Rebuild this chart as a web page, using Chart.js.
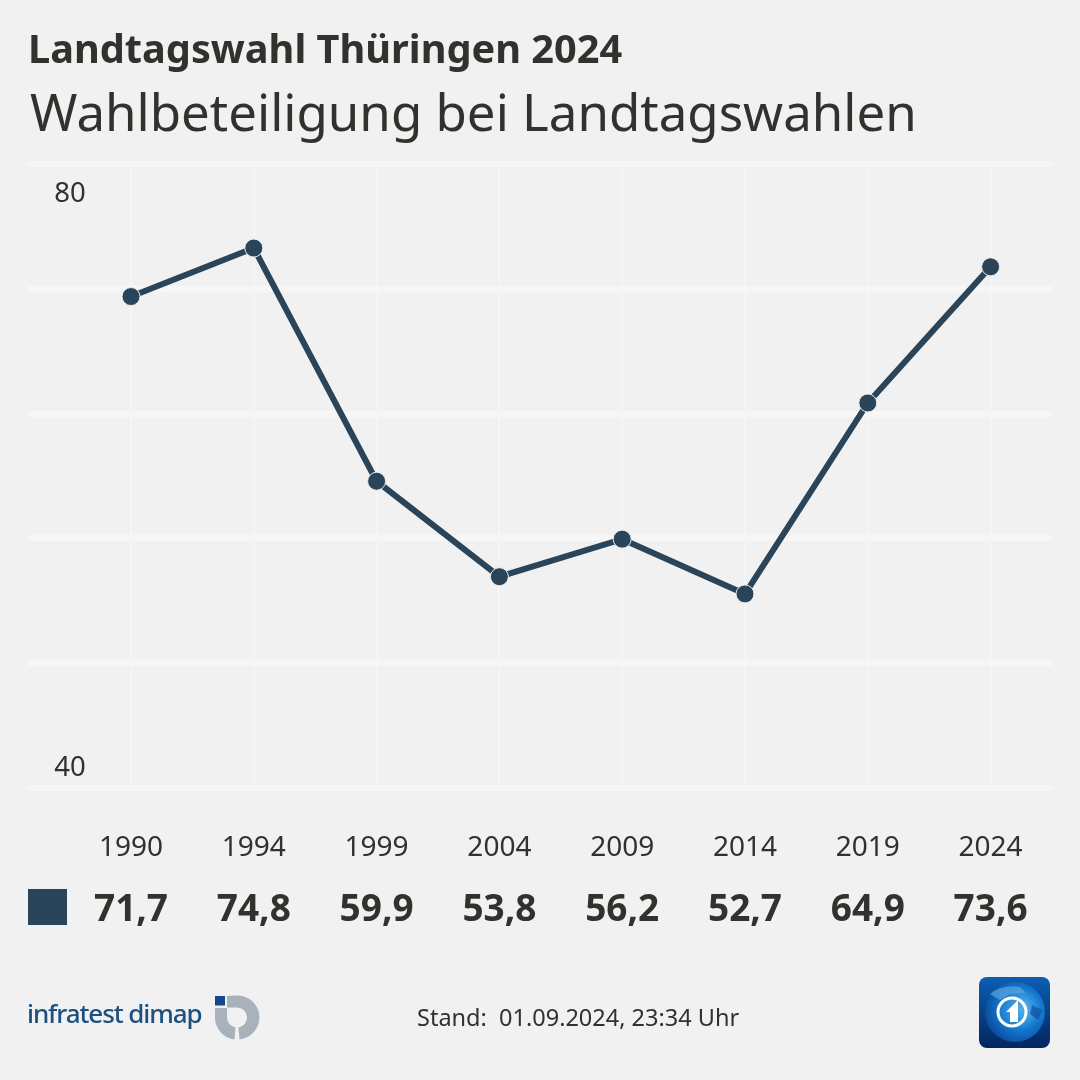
<!DOCTYPE html>
<html lang="de">
<head>
<meta charset="utf-8">
<title>Wahlbeteiligung bei Landtagswahlen</title>
<script src="https://cdn.jsdelivr.net/npm/chart.js@4"></script>
<style>
  html, body { margin: 0; padding: 0; background: #f1f1f1; }
  #wrap { position: relative; width: 1080px; height: 1080px; overflow: hidden; font-family: "Noto Sans", sans-serif; color: #32312d; }
  #wrap canvas { position: absolute; left: 0; top: 0; }
  .txt { position: absolute; white-space: nowrap; }
  #kicker { left: 28px; top: 21px; font-size: 39.7px; font-weight: 700; line-height: 54px; }
  #title { left: 30px; top: 78px; font-size: 51px; line-height: 66px; }
  #stand { left: 417px; top: 1002px; font-size: 23.5px; line-height: 30px; }
  #brand { left: 27px; top: 995px; font-size: 26px; line-height: 36px; color: #1d4f80; font-weight: 500; letter-spacing: -1.1px; }
  #swatch { position: absolute; left: 28px; top: 889px; width: 39px; height: 36px; background: #2a4459; }
  svg { position: absolute; }
</style>
</head>
<body>
<div id="wrap">
  <canvas id="wahl" width="1080" height="1080"></canvas>
  <div class="txt" id="kicker">Landtagswahl Thüringen 2024</div>
  <div class="txt" id="title">Wahlbeteiligung bei Landtagswahlen</div>
  <div id="swatch"></div>
  <div class="txt" id="brand">infratest dimap</div>
  <svg style="left:210px;top:990px" width="54" height="54" viewBox="210 990 54 54">
    <path d="M227 996 L237 995.500 A22 22 0 0 1 239.500 1039.400 L238.500 1027.400 A10 10 0 0 0 237 1007.500 L227 1007.500 Z" fill="#a9b2ba"/>
    <path d="M215 1008 L227 1008 L227 1017.500 A10 10 0 0 0 235.500 1027.400 L234.500 1039.400 A22 22 0 0 1 215 1017.500 Z" fill="#a9b2ba"/>
    <rect x="215" y="996" width="10" height="9.500" fill="#12498a"/>
  </svg>
  <div class="txt" id="stand">Stand:&nbsp; 01.09.2024, 23:34 Uhr</div>
  <svg style="left:975px;top:973px" width="80" height="80" viewBox="975 973 80 80">
    <defs>
      <linearGradient id="tile" x1="0" y1="0" x2="0" y2="1">
        <stop offset="0" stop-color="#0b5fb4"/>
        <stop offset="1" stop-color="#04255f"/>
      </linearGradient>
      <radialGradient id="globe" cx="0.6" cy="0.45" r="0.62">
        <stop offset="0" stop-color="#6cc0f2"/>
        <stop offset="0.55" stop-color="#1479cf"/>
        <stop offset="1" stop-color="#0a4a9a"/>
      </radialGradient>
    </defs>
    <rect x="979" y="977" width="71" height="71" rx="8" fill="url(#tile)"/>
    <circle cx="1015" cy="1012" r="30" fill="url(#globe)"/>
    <path d="M990 994 Q1002 984 1020 987 L1026 993 L1010 994 L1000 1000 Z" fill="#5aa6e0" opacity="0.7"/>
    <path d="M1032 1005 L1042 1010 L1038 1020 L1030 1014 Z" fill="#0d4f9e" opacity="0.7"/>
    <circle cx="1012" cy="1012" r="14" fill="#2a8ad8" fill-opacity="0.35" stroke="#fff" stroke-width="3"/>
    <path d="M1006 1012 L1018 1000 L1018 1022 L1010 1022 L1010 1012 Z" fill="#fff"/>
  </svg>
</div>
<script>
const years = ['1990', '1994', '1999', '2004', '2009', '2014', '2019', '2024'];
const turnout = [71.7, 74.8, 59.9, 53.8, 56.2, 52.7, 64.9, 73.6];
const turnoutLabels = ['71,7', '74,8', '59,9', '53,8', '56,2', '52,7', '64,9', '73,6'];
const gridValues = [40.3, 48.27, 56.25, 64.22, 72.2, 80.17];
const yLabels = ['40', '80'];
const yLabelValues = [41.56, 78.24];

const textColor = '#32312d';
const gridColor = '#f6f6f6';
const lineColor = '#2a4459';

// y-Achse steht im Plot, nicht daneben
const yLabelPlugin = {
  id: 'yLabelPlugin',
  afterDatasetsDraw(chart) {
    const ctx = chart.ctx;
    const y = chart.scales.y;
    ctx.save();
    ctx.font = '400 27.5px "Noto Sans"';
    ctx.fillStyle = textColor;
    ctx.textAlign = 'center';
    ctx.textBaseline = 'middle';
    yLabels.forEach((t, i) => ctx.fillText(t, 70, y.getPixelForValue(yLabelValues[i])));
    ctx.restore();
  }
};

new Chart(document.getElementById('wahl'), {
  type: 'line',
  plugins: [yLabelPlugin],
  data: {
    labels: years,
    datasets: [{
      data: turnout,
      borderColor: lineColor,
      borderWidth: 6,
      backgroundColor: lineColor,
      pointBackgroundColor: lineColor,
      pointBorderColor: '#e8edf0',
      pointBorderWidth: 1,
      pointRadius: 9,
      tension: 0
    }]
  },
  options: {
    responsive: false,
    animation: false,
    layout: { padding: { left: 28, right: 28, top: 164, bottom: 0 } },
    plugins: { legend: { display: false }, tooltip: { enabled: false } },
    scales: {
      x: {
        position: 'bottom',
        offset: true,
        grid: { color: '#f5f5f5', lineWidth: 2, drawTicks: false },
        border: { display: false },
        ticks: { color: textColor, font: { family: 'Noto Sans', size: 28 }, padding: 43, maxRotation: 0, autoSkip: false },
        afterFit(scale) { scale.height = 100; }
      },
      x2: {
        position: 'bottom',
        type: 'category',
        labels: turnoutLabels,
        offset: true,
        grid: { display: false, drawTicks: false },
        border: { display: false },
        ticks: { color: textColor, font: { family: 'Noto Sans', size: 37, weight: '700' }, padding: 0, maxRotation: 0, autoSkip: false },
        afterFit(scale) { scale.height = 192; }
      },
      y: {
        min: 40.3,
        max: 80.17,
        afterBuildTicks(axis) { axis.ticks = gridValues.map(value => ({ value })); },
        grid: { color: gridColor, lineWidth: 6, tickLength: 41.6, tickColor: gridColor, tickWidth: 6 },
        border: { display: false },
        ticks: { display: false },
        afterFit(scale) { scale.width = 41.6; }
      }
    }
  }
});
</script>
</body>
</html>
